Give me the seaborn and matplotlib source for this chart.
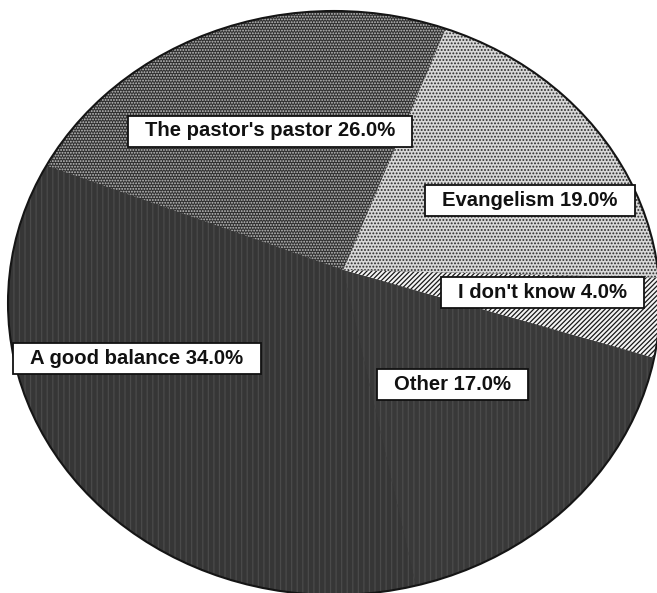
import matplotlib
matplotlib.use("Agg")
import matplotlib.pyplot as plt
from matplotlib.patches import Ellipse, Rectangle
import seaborn as sns

# Survey answers and their shares (percent)
categories = ["Evangelism", "I don't know", "Other", "A good balance", "The pastor's pastor"]
shares = [19.0, 4.0, 17.0, 34.0, 26.0]

# Label box centres in pixel coordinates (x from left, y from top)
label_x = [530, 542, 452, 137, 270]
label_y = [200, 292, 384, 358, 131]

# Greyscale fills with print-style textures
face_colors = ["#d8d8d8", "#f4f4f4", "#393939", "#363636", "#303030"]
texture_colors = ["#2a2a2a", "#181818", "#4b4b4b", "#4a4a4a", "#c4c4c4"]
textures = [".....", "///////", "|||", "|||", "......"]

sns.set_theme(style="white", rc={"hatch.linewidth": 0.9})
plt.rcParams["font.family"] = ["Liberation Sans", "DejaVu Sans"]

W, H = 657, 593
fig = plt.figure(figsize=(W / 100, H / 100), dpi=100)
ax = fig.add_axes([0, 0, 1, 1])

apex = (343, H - 270)
ell_center = (334, H - 303)
ell_w, ell_h = 652, 584

# dark base under the slices so the seams between wedges do not show white
ax.add_patch(Ellipse(ell_center, ell_w, ell_h, facecolor="#363636",
                     edgecolor="none", zorder=0))

wedges, _ = ax.pie(
    shares,
    colors=sns.color_palette(face_colors),
    hatch=textures,
    startangle=67,
    counterclock=False,
    center=apex,
    radius=700,
    wedgeprops=dict(linewidth=0),
)
for w, ec in zip(wedges, texture_colors):
    w.set_edgecolor(ec)
    w.set_linewidth(0)
    w.set_zorder(1)
    w.set_clip_on(True)
    w.set_clip_path(Ellipse(ell_center, ell_w, ell_h, transform=ax.transData))

ax.add_patch(Ellipse(ell_center, ell_w, ell_h, fill=False, edgecolor="#151515",
                     linewidth=1.5, zorder=3))

ax.set_xlim(0, W)
ax.set_ylim(0, H)
ax.set_aspect("auto")
ax.axis("off")

# Labels in white boxes
fig.canvas.draw()
renderer = fig.canvas.get_renderer()
pad_x, pad_y = 17, 6
for name, val, lx, ly in zip(categories, shares, label_x, label_y):
    t = ax.text(lx, H - ly, f"{name} {val:.1f}%", ha="center", va="center",
                fontsize=14.6, fontweight="bold", color="#111111", zorder=6)
    bb = t.get_window_extent(renderer)
    ax.add_patch(Rectangle((bb.x0 - pad_x, bb.y0 - pad_y), bb.width + 2 * pad_x,
                           bb.height + 2 * pad_y, facecolor="white",
                           edgecolor="#111111", linewidth=1.3, zorder=5))

fig.savefig("out.png", dpi=100)
